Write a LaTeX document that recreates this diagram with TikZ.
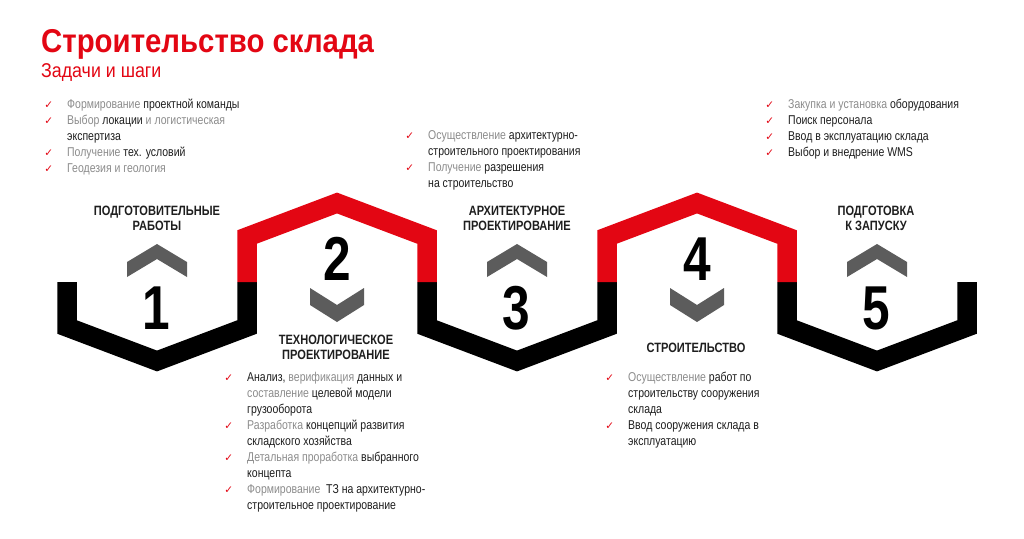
\documentclass[tikz,border=0pt]{standalone}
\usepackage{fontspec}
\usepackage{xcolor}
\usepackage{tikz}
\usetikzlibrary{positioning}
\setmainfont{Liberation Sans}
\newfontfamily\condfont{Liberation Sans}[FakeStretch=0.82]
\newfontfamily\titlefont{Liberation Sans}[FakeStretch=0.89]
\newfontfamily\digitfont{Liberation Sans}[FakeStretch=0.8]
\newfontfamily\tickfont{DejaVu Sans}
\definecolor{brandred}{RGB}{227,6,19}
\definecolor{chevgray}{RGB}{92,92,92}
\definecolor{txtgray}{RGB}{140,140,140}
\definecolor{txtdark}{RGB}{30,30,30}
\newcommand{\gr}[1]{\textcolor{txtgray}{#1}}
\newcommand{\tick}{\llap{\textcolor{brandred}{\tickfont\fontsize{10.5}{10}\selectfont ✓}\hspace{14pt}}}
\tikzset{
  band/.style={line width=19.5pt, line join=miter, line cap=butt},
  chevron/.style={fill=chevgray},
  stepnum/.style={font=\digitfont\bfseries\fontsize{62}{62}\selectfont, inner sep=0pt, anchor=base},
  stephead/.style={font=\condfont\bfseries\fontsize{13.5}{15}\selectfont, align=center, inner sep=0pt, text=txtdark},
  tasklist/.style={font=\condfont\fontsize{12.8}{16}\selectfont, align=left, anchor=north west, inner sep=0pt, text=txtdark}
}

\begin{document}
\begin{tikzpicture}[x=1pt,y=-1pt]
    \useasboundingbox[fill=white] (0,0) rectangle (1024,538);
    \node[anchor=base west, inner sep=0pt, text=brandred, font=\titlefont\bfseries\fontsize{33}{33}\selectfont] (title) at (41,52) {Строительство склада};
    \node[anchor=base west, inner sep=0pt, text=brandred, font=\titlefont\fontsize{20}{20}\selectfont] (subtitle) at (41,77) {Задачи и шаги};

    \foreach \x in {67,427,787}
      \draw[band,black] (\x,282) -- ++(0,45) -- ++(90,34) -- ++(90,-34) -- ++(0,-45);
    \foreach \x in {247,607}
      \draw[band,brandred] (\x,282) -- ++(0,-45) -- ++(90,-34) -- ++(90,34) -- ++(0,45);

    \foreach \x in {157,517,877}
      \fill[chevron] (\x-30,262) -- (\x,244) -- (\x+30,262) -- (\x+30,277) -- (\x,259) -- (\x-30,277) -- cycle;
    \foreach \x in {337,697}
      \fill[chevron] (\x-27,288) -- (\x,305) -- (\x+27,288) -- (\x+27,305) -- (\x,322) -- (\x-27,305) -- cycle;

    \node[stepnum] (n1) at (156,329) {1};
    \node[stepnum] (n2) at (337,280) {2};
    \node[stepnum] (n3) at (516,329) {3};
    \node[stepnum] (n4) at (697,280) {4};
    \node[stepnum] (n5) at (876,329) {5};

    \node[stephead] (h1) at (157,218) {ПОДГОТОВИТЕЛЬНЫЕ\\РАБОТЫ};
    \node[stephead] (h2) at (336,347) {ТЕХНОЛОГИЧЕСКОЕ\\ПРОЕКТИРОВАНИЕ};
    \node[stephead] (h3) at (517,218) {АРХИТЕКТУРНОЕ\\ПРОЕКТИРОВАНИЕ};
    \node[stephead] (h4) at (696,348) {СТРОИТЕЛЬСТВО};
    \node[stephead] (h5) at (876,218) {ПОДГОТОВКА\\К ЗАПУСКУ};

    \node[tasklist] (t1) at (67,99) {\tick\gr{Формирование} проектной команды\\
      \tick\gr{Выбор} локации \gr{и логистическая}\\
      экспертиза\\
      \tick\gr{Получение} тех. условий\\
      \tick\gr{Геодезия и геология}};
    \node[tasklist] (t2) at (428,130) {\tick\gr{Осуществление} архитектурно-\\
      строительного проектирования\\
      \tick\gr{Получение} разрешения\\
      на строительство};
    \node[tasklist] (t3) at (788,99) {\tick\gr{Закупка и установка} оборудования\\
      \tick Поиск персонала\\
      \tick Ввод в эксплуатацию склада\\
      \tick Выбор и внедрение WMS};
    \node[tasklist] (t4) at (247,372) {\tick Анализ, \gr{верификация} данных и\\
      \gr{составление} целевой модели\\
      грузооборота\\
      \tick\gr{Разработка} концепций развития\\
      складского хозяйства\\
      \tick\gr{Детальная проработка} выбранного\\
      концепта\\
      \tick\gr{Формирование}\ \ ТЗ на архитектурно-\\
      строительное проектирование};
    \node[tasklist] (t5) at (628,372) {\tick\gr{Осуществление} работ по\\
      строительству сооружения\\
      склада\\
      \tick Ввод сооружения склада в\\
      эксплуатацию};
\end{tikzpicture}
\end{document}
